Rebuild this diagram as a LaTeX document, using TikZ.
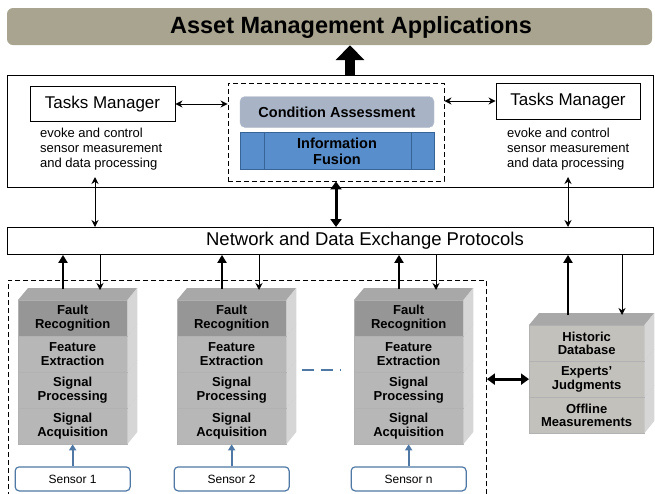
\documentclass[tikz,border=0pt]{standalone}
\usepackage{fontspec}
\setmainfont{Liberation Sans}
\usepackage{tikz}
\usetikzlibrary{arrows.meta, positioning, calc}
\definecolor{bannertan}{RGB}{168,164,143}
\definecolor{faultgrey}{RGB}{150,150,150}
\definecolor{layergrey}{RGB}{183,183,183}
\definecolor{sidegrey}{RGB}{214,214,214}
\definecolor{topgrey}{RGB}{168,168,168}
\definecolor{dbgrey}{RGB}{194,193,188}
\definecolor{cagrey}{RGB}{168,180,198}
\definecolor{fusionblue}{RGB}{88,142,204}
\definecolor{fusionedge}{RGB}{55,100,150}
\definecolor{sensorblue}{RGB}{79,120,165}

\begin{document}
\begin{tikzpicture}[x=1pt, y=-1pt,
    box/.style={draw, line width=0.9pt, fill=white, inner sep=0pt},
    note/.style={align=left, anchor=north west, inner sep=0pt, font=\fontsize{13}{15}\selectfont},
    layer/.style={draw=black!30, line width=0.3pt, anchor=north west, minimum width=109pt, minimum height=36pt, inner sep=0pt, align=center, font=\bfseries\fontsize{13}{13.5}\selectfont},
    sensorbox/.style={draw=sensorblue, line width=1.2pt, fill=white, rounded corners=4pt, minimum width=115pt, minimum height=24pt, inner sep=0pt, font=\fontsize{12}{14}\selectfont},
    framebox/.style={draw, dash pattern=on 5pt off 3pt, line width=0.9pt, inner sep=0pt},
    link/.style={{Stealth[length=7pt,width=7pt]}-{Stealth[length=7pt,width=7pt]}, line width=1pt},
    feed/.style={-{Stealth[length=7pt,width=7pt]}, line width=1pt},
    uplink/.style={-{Triangle[length=8pt,width=9pt]}, line width=2.4pt},
    biglink/.style={{Triangle[length=8pt,width=11pt]}-{Triangle[length=8pt,width=11pt]}, line width=3pt},
    sensorfeed/.style={-{Triangle[length=6pt,width=7pt]}, line width=2.2pt, draw=sensorblue}]
    \useasboundingbox (0,0) rectangle (655,493);

    % Applications banner
    \node[fill=bannertan, rounded corners=6pt, minimum width=645pt, minimum height=37pt] (apps) at (329.5,26.5) {};
    \node[font=\bfseries\fontsize{23.5}{25}\selectfont] (apptitle) at (351,27) {Asset Management Applications};

    % Upper tier
    \node[box, anchor=north west, minimum width=646pt, minimum height=112pt] (tier) at (7,75) {};
    \coordinate (upx) at (350,0);
    \draw[line width=10pt, -{Triangle[length=15pt 0 0,width=28pt 0 0]}] (upx |- tier.north) -- (upx |- apps.south);

    \node[box, minimum width=145pt, minimum height=35pt, font=\fontsize{17}{19}\selectfont] (tmL) at (102.5,104) {Tasks Manager};
    \node[note] (evokeL) at (40,128) {evoke and control\\sensor measurement\\and data processing};
    \node[box, minimum width=144pt, minimum height=36pt, font=\fontsize{17}{19}\selectfont] (tmR) at (568,101) {Tasks Manager};
    \node[note] (evokeR) at (507,128) {evoke and control\\sensor measurement\\and data processing};

    % Condition assessment and fusion
    \node[framebox, minimum width=216pt, minimum height=98pt] (fusion) at (336,132) {};
    \node[fill=cagrey, draw=cagrey!85!white, rounded corners=5pt, minimum width=194pt, minimum height=31pt, inner sep=0pt, font=\bfseries\fontsize{14.5}{16}\selectfont] (ca) at (337,112) {Condition Assessment};
    \node[fill=fusionblue, draw=fusionedge, line width=0.8pt, minimum width=194pt, minimum height=37pt, inner sep=0pt, align=center, font=\bfseries\fontsize{14.5}{16}\selectfont] (info) at (337,151) {Information\\Fusion};
    \draw[fusionedge, line width=0.8pt] ($(info.north west)+(25,0)$) -- ($(info.south west)+(25,0)$);
    \draw[fusionedge, line width=0.8pt] ($(info.north east)+(-23,0)$) -- ($(info.south east)+(-23,0)$);

    \draw[link] (tmL.east) -- (fusion.west |- tmL.east);
    \draw[link] (fusion.east |- tmR.west) -- (tmR.west);

    % Network
    \node[box, anchor=north west, minimum width=646pt, minimum height=27pt] (net) at (7,227) {};
    \node[font=\fontsize{18.5}{20}\selectfont] (nettext) at (365,241) {Network and Data Exchange Protocols};

    \coordinate (tl) at (95,177);
    \coordinate (tr) at (568,177);
    \draw[link] (tl) -- (tl |- net.north);
    \draw[link] (tr) -- (tr |- net.north);
    \draw[biglink] (fusion.south) -- (fusion.south |- net.north);

    % Sensing stacks
    \node[framebox, anchor=north west, minimum width=478pt, minimum height=240pt] (sensing) at (8,280) {};
    \foreach \x/\k in {18/1, 177/2, 354/3} {
        \foreach \y/\n/\t/\c in {408/acq/{Signal\\Acquisition}/layergrey, 372/proc/{Signal\\Processing}/layergrey, 336/feat/{Feature\\Extraction}/layergrey, 300/fault/{Fault\\Recognition}/faultgrey} {
            \node[layer, fill=\c] (\n\k) at (\x,\y) {\t};
            \fill[sidegrey] (\n\k.north east) -- ++(10,-12) -- ++(0,36) -- (\n\k.south east) -- cycle;
            \fill[topgrey] (\n\k.north west) -- ++(10,-12) -- ++(109,0) -- (\n\k.north east) -- cycle;
        }
    }
    \draw[sensorblue, line width=1.2pt, dash pattern=on 12pt off 7pt] ($(proc2.north east)+(16,-2)$) -- ($(proc3.north west)+(-13,-2)$);

    \foreach \k/\s in {1/1, 2/2, 3/n} {
        \node[sensorbox, below=22pt of acq\k] (sensor\k) {Sensor \s};
        \draw[sensorfeed] (sensor\k) -- (acq\k);
        \coordinate (tx\k) at ($(fault\k.north west)+(45,-11)$);
        \coordinate (rx\k) at ($(fault\k.north west)+(82,-10)$);
        \draw[uplink] (tx\k) -- (tx\k |- net.south);
        \draw[feed] (rx\k |- net.south) -- (rx\k);
    }

    % Offline knowledge
    \foreach \y/\n/\t in {397/offl/{Offline\\Measurements}, 361/judg/{Experts'\\Judgments}, 325/hist/{Historic\\Database}} {
        \node[layer, fill=dbgrey, minimum width=115pt] (\n) at (529,\y) {\t};
        \fill[sidegrey] (\n.north east) -- ++(10,-12) -- ++(0,36) -- (\n.south east) -- cycle;
        \fill[topgrey] (\n.north west) -- ++(10,-12) -- ++(115,0) -- (\n.north east) -- cycle;
    }
    \coordinate (dbtx) at ($(hist.north west)+(39,-10)$);
    \coordinate (dbrx) at ($(hist.north west)+(93,-10)$);
    \draw[uplink] (dbtx) -- (dbtx |- net.south);
    \draw[feed] (dbrx |- net.south) -- (dbrx);
    \draw[biglink] (sensing.east |- judg.west) -- (judg.west);
\end{tikzpicture}
\end{document}
